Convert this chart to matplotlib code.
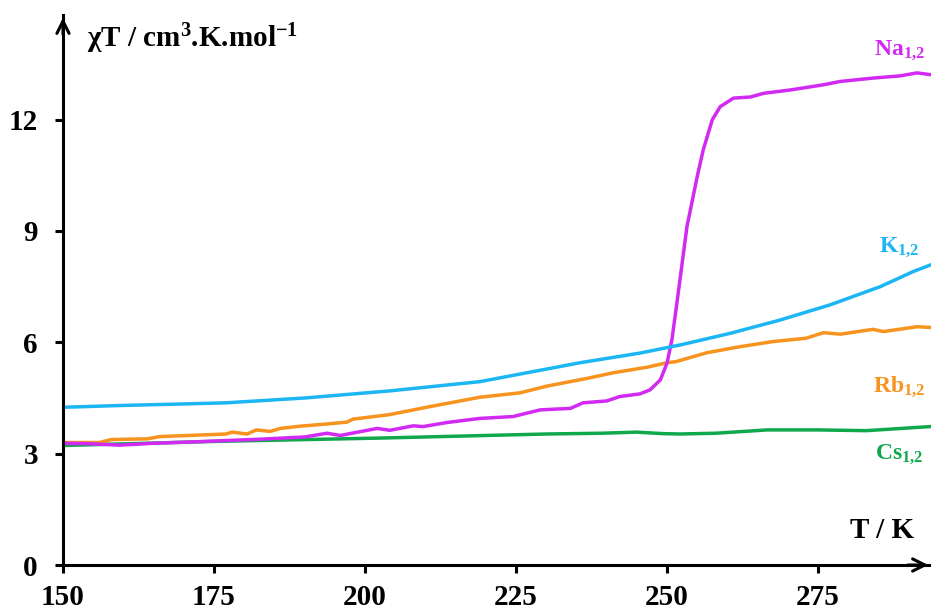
import numpy as np
import matplotlib
matplotlib.use("Agg")
import matplotlib.pyplot as plt

plt.rcParams['font.family'] = ['Liberation Serif', 'DejaVu Serif']
plt.rcParams['font.weight'] = 'bold'
plt.rcParams['mathtext.fontset'] = 'custom'
plt.rcParams['mathtext.rm'] = 'Liberation Serif:bold'
plt.rcParams['mathtext.bf'] = 'Liberation Serif:bold'
plt.rcParams['mathtext.it'] = 'Liberation Serif:bold'

# data (T in K, chiT in cm3.K/mol)
T_K = [150, 160, 170, 177, 190, 204, 219, 235.6, 245.5, 252.2, 260.4, 268.7, 277, 285.3, 290.8, 293.7]
chiT_K = [4.25, 4.30, 4.34, 4.37, 4.50, 4.69, 4.94, 5.45, 5.71, 5.93, 6.24, 6.60, 7.01, 7.50, 7.91, 8.09]

T_Na = [150, 154, 159.4, 165, 172, 182.6, 190, 193.7, 195.9, 202, 204.1, 208, 209.6, 213.6,
        219, 224.5, 229, 234, 236.1, 240, 242.2, 245.5, 247.2, 248.9, 250, 250.8, 251.7,
        253.3, 255, 256, 257.5, 258.8, 261, 263.8, 266, 270.4, 275.9, 278.7, 284.1,
        288.6, 291.4, 293.7]
chiT_Na = [3.28, 3.27, 3.23, 3.28, 3.32, 3.39, 3.45, 3.55, 3.49, 3.68, 3.63, 3.75, 3.73, 3.84,
           3.95, 4.00, 4.18, 4.22, 4.37, 4.42, 4.54, 4.61, 4.72, 4.99, 5.44, 6.06, 7.14,
           9.12, 10.47, 11.19, 12.0, 12.35, 12.58, 12.61, 12.71, 12.80, 12.94, 13.03, 13.12,
           13.18, 13.26, 13.21]

T_Rb = [150, 156, 158, 164, 166, 177, 178, 180.5, 182, 184.3, 186, 189.2, 193.7, 197, 198,
        204, 210.8, 219, 225.7, 230.1, 236.8, 241.1, 246.7, 250, 251.5, 256.6, 262, 267.5,
        273, 275.9, 278.7, 284.1, 285.8, 291.4, 293.7]
chiT_Rb = [3.30, 3.30, 3.38, 3.40, 3.46, 3.53, 3.58, 3.53, 3.64, 3.60, 3.68, 3.74, 3.80, 3.85,
           3.93, 4.05, 4.27, 4.52, 4.64, 4.82, 5.03, 5.18, 5.33, 5.45, 5.48, 5.72, 5.88, 6.02,
           6.11, 6.26, 6.22, 6.35, 6.29, 6.42, 6.40]

T_Cs = [150, 175, 202.5, 230, 239, 245, 249.3, 252, 258, 266.6, 275, 283, 293.6]
chiT_Cs = [3.22, 3.33, 3.42, 3.53, 3.55, 3.58, 3.54, 3.53, 3.55, 3.64, 3.64, 3.62, 3.73]

x_ticks = [150, 175, 200, 225, 250, 275]
y_ticks = [0, 3, 6, 9, 12]

c_na = '#D22AF2'
c_k = '#1CB6F4'
c_rb = '#F7931E'
c_cs = '#10A84C'

fig = plt.figure(figsize=(9.31, 6.12), dpi=100)
ax = fig.add_axes([63/931, 47/612, 868/931, 550/612])

lw = 2.5
ax.plot(T_Cs, chiT_Cs, color=c_cs, lw=lw)
ax.plot(T_Rb, chiT_Rb, color=c_rb, lw=lw)
ax.plot(T_Na, chiT_Na, color=c_na, lw=lw)
ax.plot(T_K, chiT_K, color=c_k, lw=lw)

ax.set_xlim(150, 293.7)
ax.set_ylim(0, 14.82)
ax.set_xticks(x_ticks)
ax.set_yticks(y_ticks)
ax.tick_params(axis='both', direction='out', length=6, width=2.2, labelsize=21)
ax.tick_params(axis='x', pad=8)
ax.tick_params(axis='y', pad=12)

for s in ['top', 'right']:
    ax.spines[s].set_visible(False)
for s in ['left', 'bottom']:
    ax.spines[s].set_linewidth(2.2)

# arrow heads on the axes
ax.annotate('', xy=(1.0, 0), xytext=(0.97, 0), xycoords='axes fraction',
            arrowprops=dict(arrowstyle='->', lw=2.2, mutation_scale=22, color='black'),
            annotation_clip=False)
ax.annotate('', xy=(0, 1.0), xytext=(0, 0.96), xycoords='axes fraction',
            arrowprops=dict(arrowstyle='->', lw=2.2, mutation_scale=22, color='black'),
            annotation_clip=False)

ax.text(154, 13.94, r'$\chi$T / cm$^{3}$.K.mol$^{-1}$', fontsize=21, ha='left', va='baseline')
ax.text(290.9, 0.73, 'T / K', fontsize=21, ha='right', va='baseline')

ax.text(292.8, 13.75, r'Na$_{1{,}2}$', color=c_na, fontsize=17, ha='right', va='baseline')
ax.text(291.8, 8.44, r'K$_{1{,}2}$', color=c_k, fontsize=17, ha='right', va='baseline')
ax.text(292.8, 4.66, r'Rb$_{1{,}2}$', color=c_rb, fontsize=17, ha='right', va='baseline')
ax.text(292.4, 2.88, r'Cs$_{1{,}2}$', color=c_cs, fontsize=17, ha='right', va='baseline')

fig.savefig('out.png', dpi=100)
